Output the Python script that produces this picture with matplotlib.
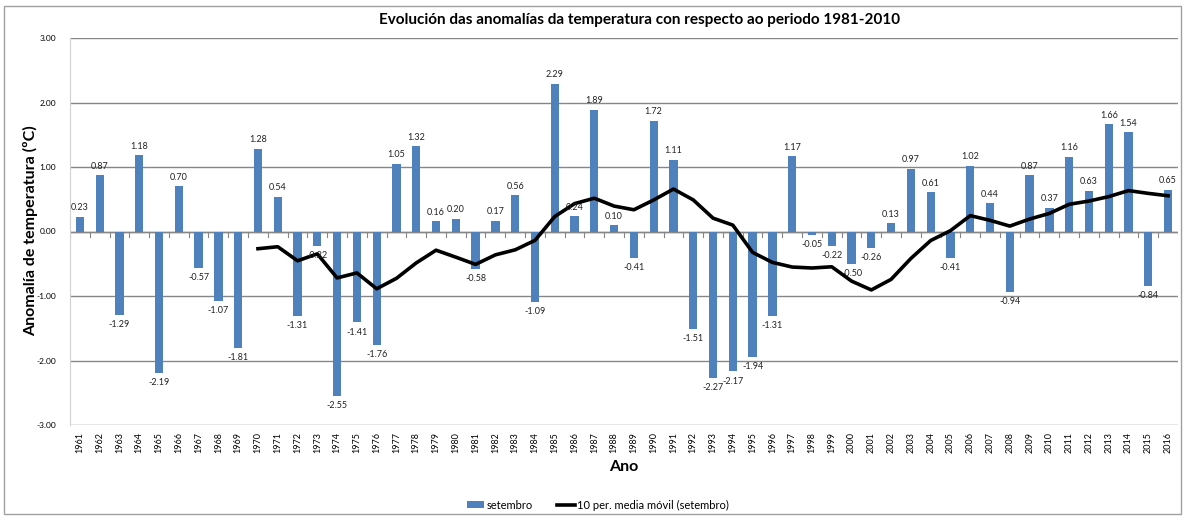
import matplotlib
matplotlib.use("Agg")
import matplotlib.pyplot as plt
import numpy as np
import pandas as pd
from matplotlib.patches import Rectangle
from matplotlib.lines import Line2D
from matplotlib.patches import Patch

years = list(range(1961, 2017))
values = [0.23, 0.87, -1.29, 1.18, -2.19, 0.70, -0.57, -1.07, -1.81, 1.28,
          0.54, -1.31, -0.22, -2.55, -1.41, -1.76, 1.05, 1.32, 0.16, 0.20,
          -0.58, 0.17, 0.56, -1.09, 2.29, 0.24, 1.89, 0.10, -0.41, 1.72,
          1.11, -1.51, -2.27, -2.17, -1.94, -1.31, 1.17, -0.05, -0.22, -0.50,
          -0.26, 0.13, 0.97, 0.61, -0.41, 1.02, 0.44, -0.94, 0.87, 0.37,
          1.16, 0.63, 1.66, 1.54, -0.84, 0.65]
yticks = [-3, -2, -1, 0, 1, 2, 3]

# 10-period moving average (Excel trendline) of the monthly anomalies
mov_avg = pd.Series(values).rolling(10).mean().to_numpy()

plt.rcParams['font.family'] = ['Lato', 'DejaVu Sans']

fig = plt.figure(figsize=(11.85, 5.2), dpi=100)
fig.patches.append(Rectangle((4/1185, 6/520), 1177/1185, 508/520, transform=fig.transFigure,
                             fill=False, edgecolor='#a0a0a0', linewidth=1.0))
ax = fig.add_axes([70/1185, 1 - 425/520, 1108/1185, 387/520])

x = np.arange(len(years))
ax.bar(x, values, width=0.42, color='#4F81BD', zorder=2)
ax.plot(x, mov_avg, color='black', linewidth=2.6, zorder=3)

for xi, v in zip(x, values):
    if v >= 0:
        ax.text(xi, v + 0.07, f"{v:.2f}", ha='center', va='bottom', fontsize=6.5, color='#222222', zorder=4)
    else:
        ax.text(xi, v - 0.08, f"{v:.2f}", ha='center', va='top', fontsize=6.5, color='#222222', zorder=4)

ax.set_xlim(-0.5, len(years) - 0.5)
ax.set_ylim(-3, 3)
ax.set_yticks(yticks)
ax.set_yticklabels([f"{t:.2f}" for t in yticks], fontsize=6)
ax.yaxis.grid(True, color='#868686', linewidth=1.0, zorder=0)
ax.set_axisbelow(True)

ax.set_xticks(x)
ax.set_xticklabels([str(y) for y in years], rotation=90, fontsize=6.5)
ax.tick_params(axis='x', length=0, pad=5)
ax.tick_params(axis='y', length=0, pad=10)

# category tick marks on the zero line
for b in np.arange(-0.5, len(years), 1.0):
    ax.plot([b, b], [0, -0.08], color='#868686', linewidth=0.8, zorder=1)
ax.axhline(0, color='#868686', linewidth=1.0, zorder=1)

for s in ['top', 'right', 'bottom']:
    ax.spines[s].set_visible(False)
ax.spines['left'].set_color('#d0d0d0')

fig.text(31/1185, 1 - 231/520, "Anomalía de temperatura (ºC)", rotation=90, ha='center', va='center',
         fontsize=11.5, fontweight='bold')
fig.text(624/1185, 1 - 467/520, "Ano", ha='center', va='center', fontsize=11.5, fontweight='bold')
fig.text(640/1185, 1 - 20/520, "Evolución das anomalías da temperatura con respecto ao periodo 1981-2010",
         ha='center', va='center', fontsize=11, fontweight='bold')

handles = [Patch(facecolor='#4F81BD', label='setembro'),
           Line2D([0], [0], color='black', linewidth=2.6, label='10 per. media móvil (setembro)')]
fig.legend(handles=handles, loc='center', bbox_to_anchor=(598/1185, 1 - 505/520), ncol=2, frameon=False,
           fontsize=8, handlelength=1.6, handleheight=0.6, handletextpad=0.2, columnspacing=2.2)

fig.savefig("out.png", dpi=100)
